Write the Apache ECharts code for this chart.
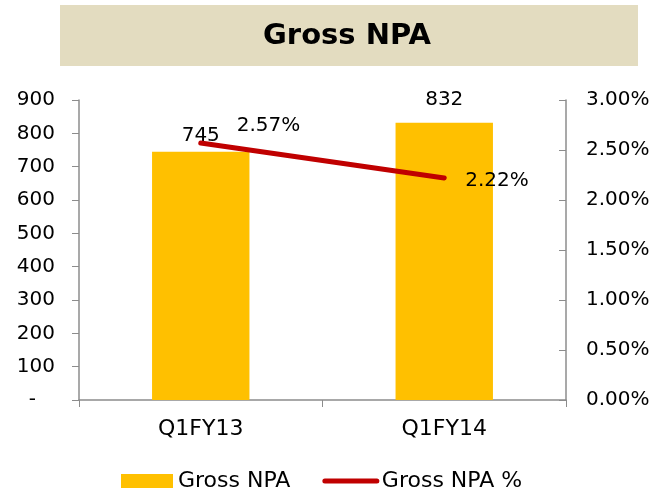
<!DOCTYPE html>
<html>
<head>
<meta charset="utf-8">
<script src="https://cdn.jsdelivr.net/npm/echarts@6/dist/echarts.min.js"></script>
<style>
  html, body { margin: 0; padding: 0; background: #fff; }
  #chart { width: 658px; height: 496px; }
</style>
</head>
<body>
<div id="chart"></div>
<script>
const categories = ['Q1FY13', 'Q1FY14']
const grossNpa = [745, 832]
const grossNpaPct = [2.57, 2.22]
const leftTicks = { min: 0, max: 900, interval: 100 }
const rightTicks = { min: 0, max: 3, interval: 0.5 }

const font = 'DejaVu Sans'
const axisColor = '#8c8c8c'

const chart = echarts.init(document.getElementById('chart'))

const option = {
  textStyle: { fontFamily: font },
  graphic: [
    {
      type: 'rect',
      shape: { x: 60, y: 5, width: 578, height: 61 },
      style: { fill: '#E3DCC0' },
      silent: true
    },
    {
      type: 'text',
      x: 347,
      y: 36,
      style: {
        text: 'Gross NPA',
        fill: '#000',
        font: 'bold 29px "DejaVu Sans"',
        textAlign: 'center',
        textVerticalAlign: 'middle'
      },
      silent: true
    }
  ],
  grid: { left: 79, right: 92, top: 100, bottom: 96 },
  legend: {
    top: 465,
    left: 116,
    itemWidth: 52,
    itemHeight: 14,
    itemGap: 32,
    textStyle: { fontSize: 22, color: '#000', fontFamily: font },
    data: [
      { name: 'Gross NPA', icon: 'rect' },
      {
        name: 'Gross NPA %',
        lineStyle: { width: 5, cap: 'round' },
        itemStyle: { color: 'rgba(0,0,0,0)', borderColor: 'rgba(0,0,0,0)', borderWidth: 0 }
      }
    ]
  },
  xAxis: {
    type: 'category',
    data: categories,
    axisLine: { lineStyle: { color: axisColor, width: 1.5 } },
    axisTick: { show: true, length: 7, lineStyle: { color: axisColor } },
    axisLabel: { fontSize: 22, color: '#000', margin: 18 }
  },
  yAxis: [
    {
      type: 'value',
      min: leftTicks.min,
      max: leftTicks.max,
      interval: leftTicks.interval,
      splitLine: { show: false },
      axisLine: { show: true, lineStyle: { color: axisColor, width: 1.5 } },
      axisTick: { show: true, length: 7, lineStyle: { color: axisColor } },
      axisLabel: {
        fontSize: 20,
        color: '#000',
        margin: 24,
        formatter: v => (v === 0 ? '-   ' : String(v))
      }
    },
    {
      type: 'value',
      min: rightTicks.min,
      max: rightTicks.max,
      interval: rightTicks.interval,
      splitLine: { show: false },
      axisLine: { show: true, lineStyle: { color: axisColor, width: 1.5 } },
      axisTick: { show: true, inside: true, length: 7, lineStyle: { color: axisColor } },
      axisLabel: {
        fontSize: 20,
        color: '#000',
        margin: 20,
        formatter: v => v.toFixed(2) + '%'
      }
    }
  ],
  series: [
    {
      name: 'Gross NPA',
      type: 'bar',
      data: grossNpa.map((v, i) => ({
        value: v,
        label: { distance: i === 0 ? 6 : 13 }
      })),
      barWidth: '40%',
      itemStyle: { color: '#FFC000' },
      label: {
        show: true,
        position: 'top',
        fontSize: 20,
        color: '#000'
      }
    },
    {
      name: 'Gross NPA %',
      type: 'line',
      yAxisIndex: 1,
      data: grossNpaPct,
      symbol: 'none',
      lineStyle: { color: '#C00000', width: 5, cap: 'round' },
      itemStyle: { color: '#C00000' }
    },
    {
      // labels for the percentage line
      name: 'pctLabels',
      type: 'scatter',
      yAxisIndex: 1,
      symbolSize: 0,
      silent: true,
      itemStyle: { opacity: 1 },
      data: grossNpaPct.map((v, i) => ({
        value: v,
        label: { offset: i === 0 ? [31, -17] : [16, 3] }
      })),
      label: {
        show: true,
        position: 'right',
        fontSize: 20,
        color: '#000',
        formatter: p => p.value.toFixed(2) + '%'
      }
    }
  ]
}

chart.setOption(option)
</script>
</body>
</html>
